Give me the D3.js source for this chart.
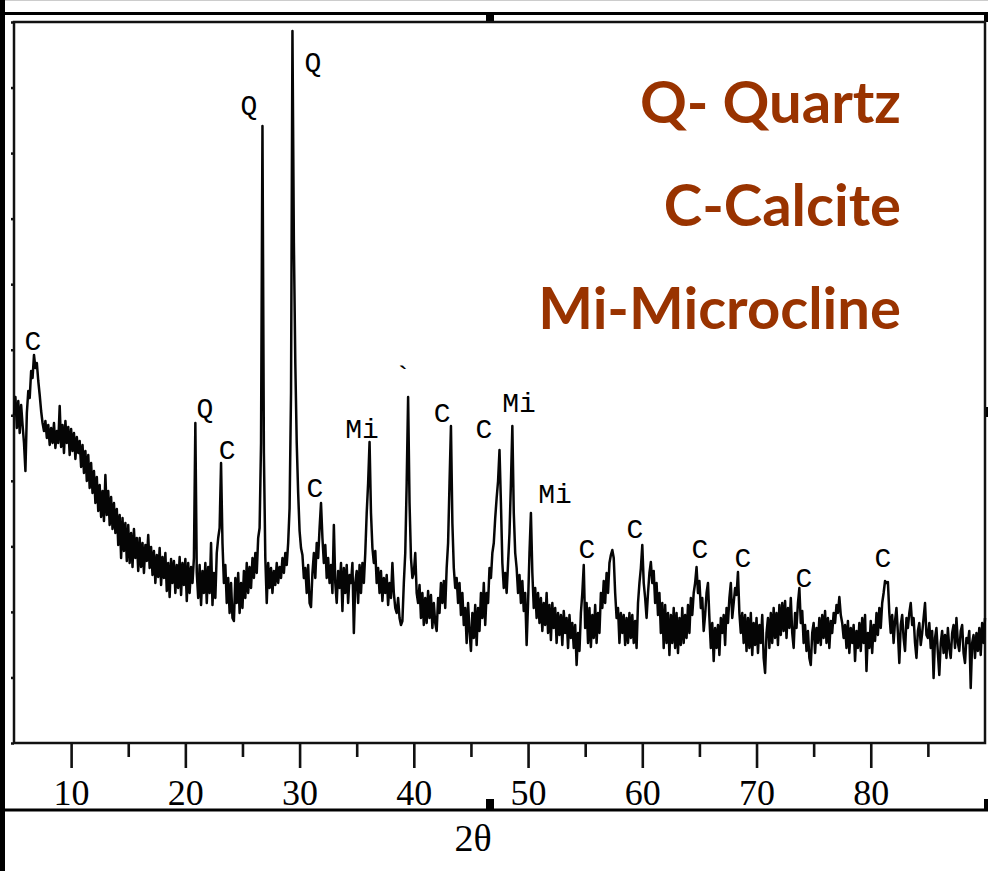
<!DOCTYPE html>
<html><head><meta charset="utf-8">
<script src="https://cdn.jsdelivr.net/npm/d3@7"></script>
<style>body{margin:0;background:#fff;overflow:hidden} svg{display:block}</style>
</head><body>
<svg id="c" width="988" height="871"></svg>
<script>
// ---- data ----
const thetaStart = 5, thetaStep = 0.125;   // 2θ grid of the scan (8 readings per degree)
const intensity = [
 328,346,315,342,310,338,318,300,  272,330,352,345,372,365,388,375,  380,362,348,332,320,312,322,305,
 318,298,315,300,320,295,312,300,  337,296,318,290,322,300,316,288,  314,292,310,284,306,290,302,276,
 298,270,292,262,288,255,280,250,  272,240,266,232,258,226,252,222,  268,228,252,218,246,214,240,210,
 234,198,228,185,225,192,220,182,  218,180,210,176,214,185,205,172,  205,176,200,170,198,182,208,175,
 196,168,192,160,188,166,195,158,  186,165,190,152,180,146,184,160,  182,150,178,155,186,148,180,158,
 184,142,180,150,176,160,185,320,  170,145,178,138,172,150,180,140,  176,150,200,138,170,145,190,205,
 215,280,200,160,178,140,165,130,  160,125,122,165,140,170,130,160,  135,172,145,180,150,176,155,185,
 165,190,170,205,215,300,617,290,  185,140,180,155,175,150,172,158,  180,160,176,165,185,170,190,178,
 200,235,350,712,500,380,300,250,  212,195,188,165,175,150,178,140,  136,170,190,165,200,185,215,240,
 205,180,198,165,185,160,178,150,  218,160,140,172,155,180,132,175,  150,178,140,168,160,180,110,160,
 172,140,178,150,180,160,190,230,  260,301,230,195,180,192,160,175,  150,172,142,165,150,168,138,160,
 145,180,150,135,130,145,125,118,  122,160,190,260,346,240,185,165,  170,190,150,140,158,125,150,118,
 145,120,152,125,148,115,140,120,  112,145,130,160,140,162,135,175,  200,260,317,220,175,155,165,140,
 160,128,150,118,135,100,140,112,   92,130,105,138, 98,135,112,150,  125,160,118,150,140,175,165,190,
 200,225,245,262,293,240,180,155,  170,150,180,210,260,317,230,190,  175,150,168,140,162,132,150, 98,
 140,190,230,170,135,155,125,150,  120,145,112,140,118,150,110,138,  103,140,115,135,100,130,108,128,
  98,132,110,125, 95,128,105,120,   95,118, 78,110, 92,130,150,178,  115,140,100,135, 96,128,105,138,
 100,130,110,150,135,162,140,170,  150,180,188,193,185,150,125,135,  100,130,110,128, 98,125,100,130,
 105,128,100,122, 95,140,160,175,  198,160,145,125,150,170,181,160,  172,140,160,128,150,110,140, 95,
 138,100,130, 88,128,100,135, 95,  130, 90,125, 98,135,100,128,105,  138,110,145,128,150,160,176,150,
 162,135,145,112,128,150,160,125,   95,120, 82,115, 95,118, 88,125,  110,128, 98,135,120,145,160,125,
 140,155,148,171,130,110,130,100,  128, 92,125, 95,130, 88,120, 98,  125, 90,118,100,128, 85, 70,110,
 125, 95,130,100,135,105,130, 98,  138,108,140,112,142,105,135,115,  145,110, 95,130,115,140,155,120,
 132,100,118, 92,112, 85, 78,110,  120, 90,115,100,125, 98,128,105,  132,100,125, 95,122,110,130,120,
 138,130,146,128,120,105,118, 95,  122, 90,115,100,118, 82,112, 95,  120, 92,125,100,128, 72,110, 95,
 122, 90,118,102,130,108,135,115,  140,150,162,160,161,130,110,128,  100,122,135,110, 80,118,128,105,
  92,125,115,130,140,118,125,100,   85,112,120, 98,110,125,140,108,  105,120, 95,112, 65,105,115, 90,
  68,100,112, 90,108, 85,115, 95,   85,110,118, 95,125,100, 92,112,  118, 90, 80,105,100,112, 55,100,
 108, 85,110, 92,115, 88,120,100,
 125
];
const xMajorTicks = [10, 20, 30, 40, 50, 60, 70, 80];
const xMinorTicks = [15, 25, 35, 45, 55, 65, 75, 85];
const peakLabel = ["C","Q","C","Q","Q","C","Mi","`","C","C","Mi","Mi","C","C","C","C","C","C"];
const peakTheta = [6.66,21.72,23.65,25.57,31.17,31.35,35.46,39.05,42.47,46.14,49.21,52.36,55.16,59.36,65.05,68.81,74.15,81.07];
const peakLabelI = [403,336,294,639,682,256,315,368,331,315,341,250,195,215,195,186,166,186];
const legendLines = ["Q- Quartz", "C-Calcite", "Mi-Microcline"];
const xTitle = "2θ";

// ---- layout ----
const svg = d3.select("#c");
const x = d3.scaleLinear().domain([5, 90]).range([14, 985]);
const y = d3.scaleLinear().domain([0, 721]).range([743, 22]);
const yTicks = d3.range(0, 12).map(k => k * 721 / 11);

// page decorations (screenshot framing)
svg.append("rect").attr("x",0).attr("y",0).attr("width",988).attr("height",871).attr("fill","#fff");
svg.append("line").attr("x1",0).attr("x2",988).attr("y1",0.5).attr("y2",0.5).attr("stroke","#ccc").attr("stroke-width",1);
svg.append("line").attr("x1",4).attr("x2",988).attr("y1",13.5).attr("y2",13.5).attr("stroke","#000").attr("stroke-width",3);
svg.append("line").attr("x1",4).attr("x2",988).attr("y1",810).attr("y2",810).attr("stroke","#000").attr("stroke-width",3);
svg.append("rect").attr("x",0).attr("y",0).attr("width",5).attr("height",871).attr("fill","#000");
const handles = [[486,12,8,11],[984,12,4,10],[985,407,3,10],[486,799,8,11],[984,799,4,11]];
svg.selectAll("rect.h").data(handles).join("rect").attr("class","h")
  .attr("x",d=>d[0]).attr("y",d=>d[1]).attr("width",d=>d[2]).attr("height",d=>d[3]).attr("fill","#000");

// plot frame
svg.append("rect").attr("x",x(5)).attr("y",y(721)).attr("width",x(90)-x(5)).attr("height",y(0)-y(721))
  .attr("fill","none").attr("stroke","#111").attr("stroke-width",2.5);

// axes
const gx = svg.append("g").attr("transform",`translate(0,${y(0)})`)
  .call(d3.axisBottom(x).tickValues(xMajorTicks).tickSize(25).tickPadding(0).tickFormat(d3.format("d")));
gx.select(".domain").remove();
gx.selectAll(".tick line").attr("stroke","#111").attr("stroke-width",2.6);
gx.selectAll(".tick text").attr("y",62).attr("dy",0).attr("fill","#000")
  .style("font-family","'Liberation Serif', 'Times New Roman', serif").style("font-size","36px");
const gxm = svg.append("g").attr("transform",`translate(0,${y(0)})`)
  .call(d3.axisBottom(x).tickValues(xMinorTicks).tickSize(14).tickFormat(""));
gxm.select(".domain").remove();
gxm.selectAll(".tick line").attr("stroke","#111").attr("stroke-width",2.6);

const gy = svg.append("g").attr("transform",`translate(${x(5)},0)`)
  .call(d3.axisLeft(y).tickValues(yTicks).tickSize(3).tickFormat(""));
gy.select(".domain").remove();
gy.selectAll(".tick line").attr("stroke","#111").attr("stroke-width",2.5);

// x title
svg.append("text").attr("x",473).attr("y",851).attr("text-anchor","middle")
  .style("font-family","'Liberation Serif', 'Times New Roman', serif").style("font-size","38px").text(xTitle);

// trace
const line = d3.line().x((d,i)=>x(thetaStart + i*thetaStep)).y(d=>y(d));
svg.append("path").datum(intensity).attr("d",line).attr("fill","none")
  .attr("stroke","#050505").attr("stroke-width",2.5).attr("stroke-linejoin","round");

// peak labels
svg.selectAll("text.pk").data(peakLabel).join("text").attr("class","pk")
  .attr("x",(d,i)=>x(peakTheta[i])).attr("y",(d,i)=>y(peakLabelI[i])).attr("dy","0.35em")
  .attr("text-anchor","middle")
  .style("font-family","'Liberation Mono', 'Courier New', monospace").style("font-size","28px")
  .text(d=>d);

// legend
svg.selectAll("text.lg").data(legendLines).join("text").attr("class","lg")
  .attr("x",901).attr("y",(d,i)=>123 + i*103).attr("text-anchor","end")
  .attr("fill","#993300")
  .style("font-family","Lato, 'Open Sans', sans-serif").style("font-weight","bold").style("font-size","58px")
  .text(d=>d);
</script>
</body></html>
